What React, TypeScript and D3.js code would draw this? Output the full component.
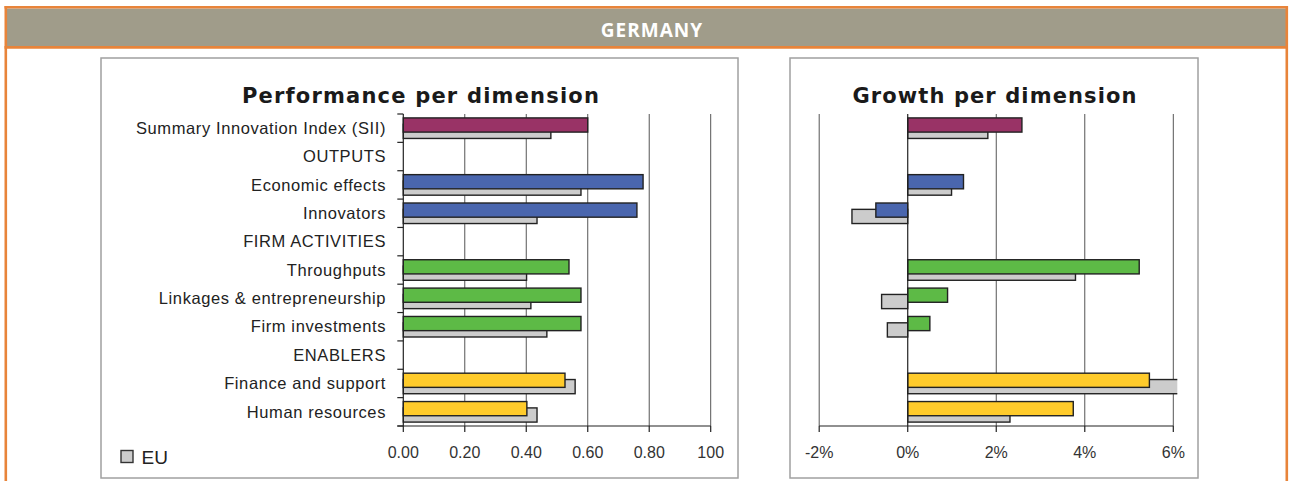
import React from "react";
import * as d3 from "d3";

const categories = [
  "Summary Innovation Index (SII)",
  "OUTPUTS",
  "Economic effects",
  "Innovators",
  "FIRM ACTIVITIES",
  "Throughputs",
  "Linkages & entrepreneurship",
  "Firm investments",
  "ENABLERS",
  "Finance and support",
  "Human resources",
];
const groupColors = ["#993366", null, "#4a66ae", "#4a66ae", null, "#5dba46", "#5dba46", "#5dba46", null, "#ffcb2b", "#ffcb2b"];
const perfCountry = [0.6, null, 0.78, 0.76, null, 0.539, 0.578, 0.578, null, 0.526, 0.402];
const perfEU = [0.48, null, 0.578, 0.435, null, 0.401, 0.415, 0.467, null, 0.559, 0.435];
const growthCountry = [2.58, null, 1.26, -0.72, null, 5.23, 0.9, 0.5, null, 5.46, 3.74];
const growthEU = [1.81, null, 0.99, -1.26, null, 3.79, -0.59, -0.46, null, 6.6, 2.31];
const perfTicks = [0, 0.2, 0.4, 0.6, 0.8, 1.0];
const perfTickLabels = ["0.00", "0.20", "0.40", "0.60", "0.80", "100"];
const growthTicks = [-2, 0, 2, 4, 6];
const growthTickLabels = ["-2%", "0%", "2%", "4%", "6%"];

const W = 1290;
const H = 481;
const TOP = 114;
const BOTTOM = 426;

export default function App() {
  const y = d3.scaleBand<string>().domain(categories).range([TOP, BOTTOM]).paddingInner(0).paddingOuter(0);
  const bw = y.bandwidth();
  const bh = bw * 0.5;
  const off = bw * 0.21;
  const xL = d3.scaleLinear().domain([0, 1]).range([403.3, 710.7]);
  const xR = d3.scaleLinear().domain([-2, 6]).range([819.2, 1173.3]);
  const font = "'Liberation Sans', Arial, sans-serif";
  const titleFont = "'DejaVu Sans', Verdana, sans-serif";
  const boundaries = categories.map((c) => y(c) as number).concat([BOTTOM]);

  const bar = (x: d3.ScaleLinear<number, number>, v: number, yc: number, fill: string, key: string) => {
    const x0 = x(0);
    const x1 = x(v);
    return (
      <rect
        key={key}
        x={Math.min(x0, x1)}
        y={yc - bh / 2}
        width={Math.abs(x1 - x0)}
        height={bh}
        fill={fill}
        stroke="#222"
        strokeWidth={1.4}
      />
    );
  };

  return (
    <svg width={W} height={H} style={{ position: "absolute", left: 0, top: 0, background: "#fff" }}>
      <defs>
        <clipPath id="clipR">
          <rect x={xR(-2) - 2} y={TOP - 5} width={xR(6) + 4 - xR(-2) + 2} height={BOTTOM - TOP + 10} />
        </clipPath>
      </defs>
      {/* frame */}
      <rect x={7} y={8.5} width={1279} height={37.5} fill="#a09c8a" />
      <line x1={4.5} x2={1288} y1={7.2} y2={7.2} stroke="#e8843a" strokeWidth={2.6} />
      <line x1={4.5} x2={1288} y1={47.3} y2={47.3} stroke="#e8843a" strokeWidth={2.8} />
      <line x1={5.8} x2={5.8} y1={6} y2={H} stroke="#e8843a" strokeWidth={2.6} />
      <line x1={1286.8} x2={1286.8} y1={6} y2={H} stroke="#e8843a" strokeWidth={2.6} />
      <text x={652} y={36.8} textAnchor="middle" fill="#fff" fontFamily="'Open Sans', sans-serif" fontWeight="bold" fontSize={19} letterSpacing={1}>
        GERMANY
      </text>

      {/* panel boxes */}
      <rect x={101} y={58} width={637} height={420} fill="none" stroke="#a0a0a0" strokeWidth={1.5} />
      <rect x={790} y={58} width={408} height={420} fill="none" stroke="#a0a0a0" strokeWidth={1.5} />

      {/* titles */}
      <text x={421} y={103} textAnchor="middle" fontFamily={titleFont} fontWeight="bold" fontSize={21} letterSpacing={1.2} fill="#1a1a1a">
        Performance per dimension
      </text>
      <text x={995} y={103} textAnchor="middle" fontFamily={titleFont} fontWeight="bold" fontSize={21} letterSpacing={1.1} fill="#1a1a1a">
        Growth per dimension
      </text>

      {/* left chart grid */}
      {perfTicks.slice(1).map((t) => (
        <line key={"gl" + t} x1={xL(t)} x2={xL(t)} y1={TOP} y2={BOTTOM} stroke="#555" strokeWidth={1} />
      ))}
      {/* left bars */}
      {categories.map((c, i) => {
        const yc = (y(c) as number) + bw / 2;
        const out: any[] = [];
        if (perfEU[i] != null) out.push(bar(xL, perfEU[i] as number, yc + off / 2 + 0.2, "#cccccc", "le" + i));
        if (perfCountry[i] != null) out.push(bar(xL, perfCountry[i] as number, yc - off / 2 - 0.2, groupColors[i] as string, "lc" + i));
        return <g key={"lb" + i}>{out}</g>;
      })}
      {/* left y axis */}
      <line x1={xL(0)} x2={xL(0)} y1={TOP} y2={BOTTOM} stroke="#222" strokeWidth={1.2} />
      {boundaries.map((b, i) => (
        <line key={"lt" + i} x1={xL(0) - 6} x2={xL(0)} y1={b} y2={b} stroke="#222" strokeWidth={1.2} />
      ))}
      {/* left x axis */}
      <line x1={xL(0) - 6} x2={xL(1)} y1={BOTTOM} y2={BOTTOM} stroke="#222" strokeWidth={1.2} />
      {perfTicks.map((t, i) => (
        <g key={"lx" + i}>
          <line x1={xL(t)} x2={xL(t)} y1={BOTTOM} y2={BOTTOM + 6} stroke="#222" strokeWidth={1.2} />
          <text x={xL(t)} y={458.3} textAnchor="middle" fontFamily={font} fontSize={16} fill="#333">
            {perfTickLabels[i]}
          </text>
        </g>
      ))}
      {/* category labels */}
      {categories.map((c) => (
        <text key={"cl" + c} x={386} y={(y(c) as number) + bw / 2 + 5.7} textAnchor="end" fontFamily={font} fontSize={16.5} letterSpacing={0.6} fill="#222">
          {c}
        </text>
      ))}
      {/* legend */}
      <rect x={121} y={450.5} width={12} height={12} fill="#cccccc" stroke="#333" strokeWidth={1.4} />
      <text x={141.5} y={463.5} fontFamily={font} fontSize={19} fill="#222">
        EU
      </text>

      {/* right chart grid */}
      {growthTicks.filter((t) => t !== 0).map((t) => (
        <line key={"gr" + t} x1={xR(t)} x2={xR(t)} y1={TOP} y2={BOTTOM} stroke="#555" strokeWidth={1} />
      ))}
      <g clipPath="url(#clipR)">
        {categories.map((c, i) => {
          const yc = (y(c) as number) + bw / 2;
          const out: any[] = [];
          if (growthEU[i] != null) out.push(bar(xR, growthEU[i] as number, yc + off / 2 + 0.2, "#cccccc", "re" + i));
          if (growthCountry[i] != null) out.push(bar(xR, growthCountry[i] as number, yc - off / 2 - 0.2, groupColors[i] as string, "rc" + i));
          return <g key={"rb" + i}>{out}</g>;
        })}
      </g>
      <line x1={xR(0)} x2={xR(0)} y1={TOP} y2={BOTTOM} stroke="#222" strokeWidth={1.2} />
      <line x1={xR(-2)} x2={xR(6)} y1={BOTTOM} y2={BOTTOM} stroke="#222" strokeWidth={1.2} />
      {growthTicks.map((t, i) => (
        <g key={"rx" + i}>
          <line x1={xR(t)} x2={xR(t)} y1={BOTTOM} y2={BOTTOM + 6} stroke="#222" strokeWidth={1.2} />
          <text x={xR(t)} y={458.3} textAnchor="middle" fontFamily={font} fontSize={16} fill="#333">
            {growthTickLabels[i]}
          </text>
        </g>
      ))}
    </svg>
  );
}
